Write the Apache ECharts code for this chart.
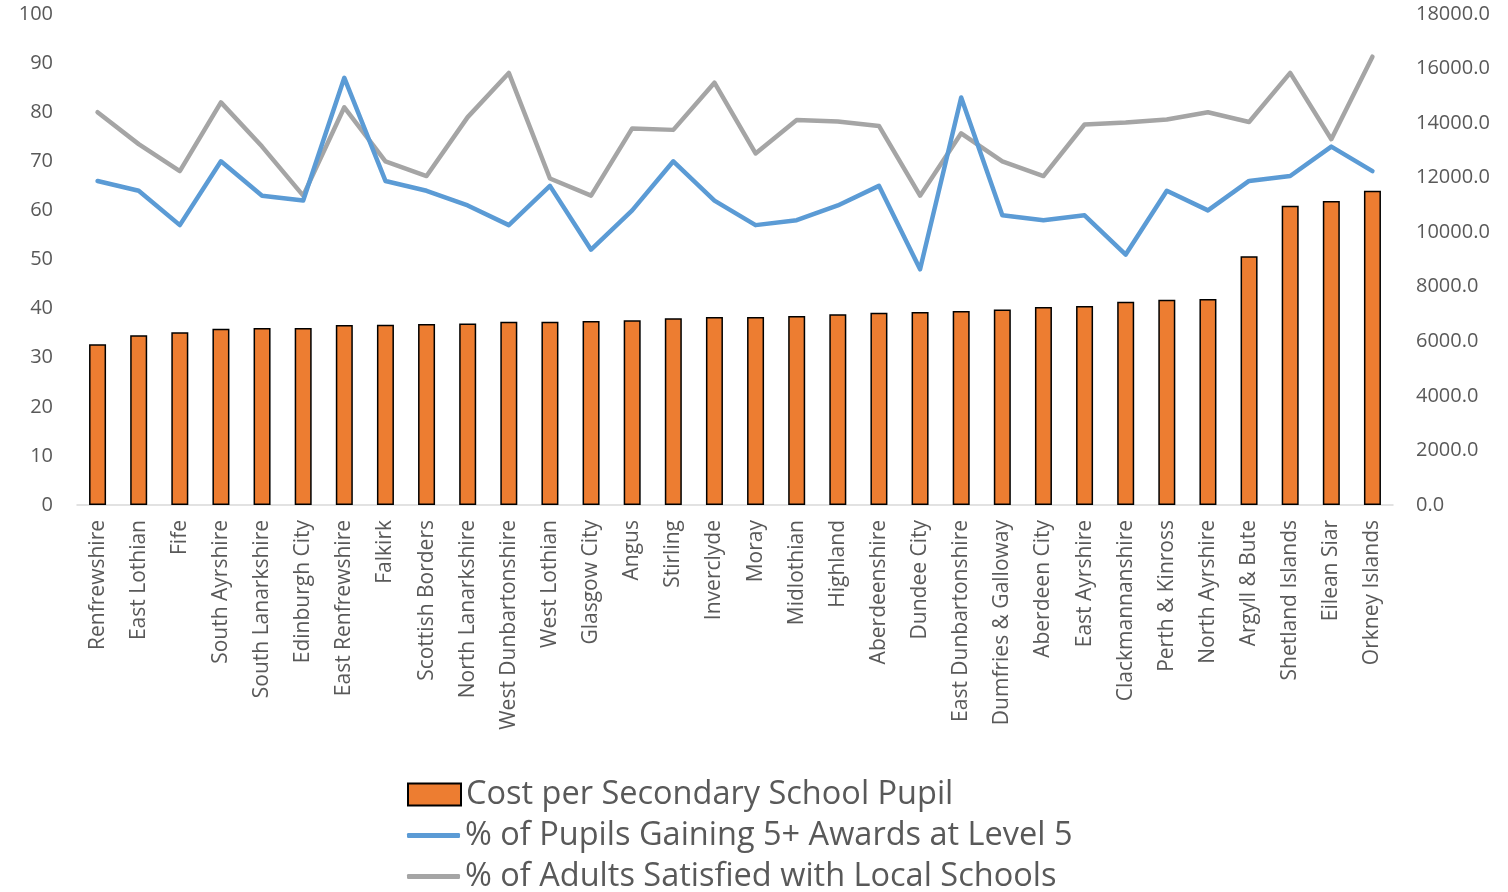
<!DOCTYPE html>
<html>
<head>
<meta charset="utf-8">
<script src="https://cdn.jsdelivr.net/npm/echarts@6/dist/echarts.min.js"></script>
<style>html,body{margin:0;padding:0;background:#fff}#c{width:1508px;height:892px}</style>
</head>
<body>
<div id="c"></div>
<script>
const categories = ["Renfrewshire","East Lothian","Fife","South Ayrshire","South Lanarkshire","Edinburgh City","East Renfrewshire","Falkirk","Scottish Borders","North Lanarkshire","West Dunbartonshire","West Lothian","Glasgow City","Angus","Stirling","Inverclyde","Moray","Midlothian","Highland","Aberdeenshire","Dundee City","East Dunbartonshire","Dumfries & Galloway","Aberdeen City","East Ayrshire","Clackmannanshire","Perth & Kinross","North Ayrshire","Argyll & Bute","Shetland Islands","Eilean Siar","Orkney Islands"];
const costPerPupil = [5890,6220,6330,6460,6490,6490,6600,6610,6635,6650,6720,6720,6745,6770,6845,6890,6890,6930,6990,7050,7075,7110,7170,7260,7295,7455,7525,7550,9115,10970,11145,11520];
const pupilsAwards = [66,64,57,70,63,62,87,66,64,61,57,65,52,60,70,62,57,58,61,65,48,83,59,58,59,51,64,60,66,67,73,68];
const adultsSatisfied = [80,73.5,68,82,73,63,81,70,67,79,88,66.5,63,76.7,76.4,86,71.6,78.4,78.1,77.2,63,75.7,70,67,77.5,77.9,78.5,80,78,88,74.5,91.3];
const seriesNames = ['Cost per Secondary School Pupil','% of Pupils Gaining 5+ Awards at Level 5','% of Adults Satisfied with Local Schools'];
const leftTicks = {min:0, max:100, interval:10};
const rightTicks = {min:0, max:18000, interval:2000};

const font = '"Open Sans", sans-serif';
const legendText = {fontSize:32.5, color:'#595959', fontFamily:font};
function legendFor(name, top, icon, h){
  return {orient:'vertical', left:407, top:top, padding:0, itemWidth:53, itemHeight:h, itemGap:0,
    selectedMode:false, textStyle:legendText, data:[{name:name, icon:icon}]};
}
const chart = echarts.init(document.getElementById('c'), null, {renderer:'canvas'});
chart.setOption({
  animation:false,
  textStyle:{fontFamily:font},
  grid:{left:77, right:115, top:14, bottom:387, containLabel:false},
  legend:[
    legendFor(seriesNames[0], 778, 'rect', 22),
    legendFor(seriesNames[1], 819, 'roundRect', 5),
    legendFor(seriesNames[2], 860, 'roundRect', 5)
  ],
  xAxis:{
    type:'category', data:categories,
    axisLine:{lineStyle:{color:'#D9D9D9', width:1.5}},
    axisTick:{show:false},
    axisLabel:{rotate:90, interval:0, fontSize:21, color:'#595959', margin:15, fontFamily:font}
  },
  yAxis:[
    {type:'value', min:leftTicks.min, max:leftTicks.max, interval:leftTicks.interval, position:'left',
     splitLine:{show:false}, axisLine:{show:false}, axisTick:{show:false},
     axisLabel:{fontSize:20, color:'#595959', margin:24, fontFamily:font}},
    {type:'value', min:rightTicks.min, max:rightTicks.max, interval:rightTicks.interval, position:'right',
     splitLine:{show:false}, axisLine:{show:false}, axisTick:{show:false},
     axisLabel:{fontSize:20, color:'#595959', margin:23, fontFamily:font, formatter:v=>v.toFixed(1)}}
  ],
  series:[
    {name:seriesNames[0], type:'bar', yAxisIndex:1, data:costPerPupil, barWidth:17,
     itemStyle:{color:'#ED7D31', borderColor:'#000', borderWidth:1.5}, z:1},
    {name:seriesNames[1], type:'line', yAxisIndex:0, data:pupilsAwards,
     symbol:'none', lineStyle:{color:'#5B9BD5', width:4.5, join:'round', cap:'round'}, itemStyle:{color:'#5B9BD5'}, z:3},
    {name:seriesNames[2], type:'line', yAxisIndex:0, data:adultsSatisfied,
     symbol:'none', lineStyle:{color:'#A5A5A5', width:4.5, join:'round', cap:'round'}, itemStyle:{color:'#A5A5A5'}, z:2}
  ]
});
</script>
</body>
</html>
